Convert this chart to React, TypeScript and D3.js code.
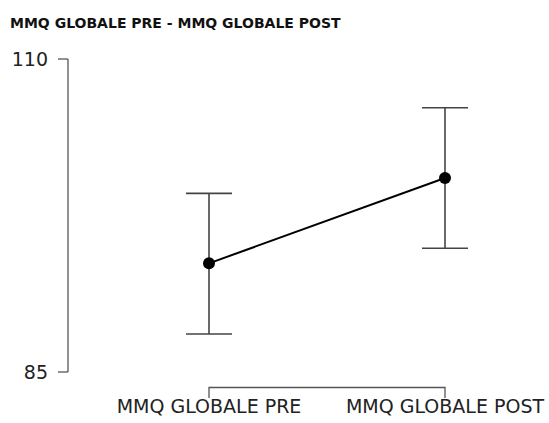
import React from "react";
import * as d3 from "d3";

const title = "MMQ GLOBALE PRE - MMQ GLOBALE POST";
const categories = ["MMQ GLOBALE PRE", "MMQ GLOBALE POST"];
const means = [93.68, 100.5];
const errLow = [88.04, 94.88];
const errHigh = [99.27, 106.11];
const yTicks = [85, 110];

export default function App() {
  const width = 549;
  const height = 423;
  const y = d3.scaleLinear().domain([85, 110]).range([372, 59]);
  const x = d3.scalePoint<string>().domain(categories).range([209, 445]);
  const line = d3
    .line<number>()
    .x((_, i) => x(categories[i]) as number)
    .y((d) => y(d));
  const axisColor = "#555";
  const capHalf = 23;
  const xr = x.range();
  return (
    <svg
      width={width}
      height={height}
      style={{ position: "absolute", left: 0, top: 0 }}
      fontFamily="'DejaVu Sans', sans-serif"
    >
      <rect width={width} height={height} fill="#fff" />
      <text x={10} y={28} fontSize={14} fontWeight="bold" fill="#111">
        {title}
      </text>
      {/* y axis */}
      <line x1={68} x2={68} y1={y(110)} y2={y(85)} stroke={axisColor} strokeWidth={1.3} />
      {yTicks.map((t) => (
        <g key={t}>
          <line x1={58} x2={68} y1={y(t)} y2={y(t)} stroke={axisColor} strokeWidth={1.3} />
          <text x={48} y={y(t)} dy="0.35em" textAnchor="end" fontSize={19} fill="#222">
            {t}
          </text>
        </g>
      ))}
      {/* x axis bracket */}
      <path
        d={`M${xr[0]},398V387.5H${xr[1]}V398`}
        fill="none"
        stroke={axisColor}
        strokeWidth={1.3}
      />
      {categories.map((c) => (
        <text key={c} x={x(c)} y={413} textAnchor="middle" fontSize={19} fill="#222">
          {c}
        </text>
      ))}
      {/* error bars */}
      {categories.map((c, i) => {
        const cx = x(c) as number;
        return (
          <g key={c} stroke="#444" strokeWidth={1.6}>
            <line x1={cx} x2={cx} y1={y(errHigh[i])} y2={y(errLow[i])} />
            <line x1={cx - capHalf} x2={cx + capHalf} y1={y(errHigh[i])} y2={y(errHigh[i])} />
            <line x1={cx - capHalf} x2={cx + capHalf} y1={y(errLow[i])} y2={y(errLow[i])} />
          </g>
        );
      })}
      <path d={line(means) || ""} fill="none" stroke="#000" strokeWidth={2} />
      {categories.map((c, i) => (
        <circle key={c} cx={x(c)} cy={y(means[i])} r={6} fill="#000" />
      ))}
    </svg>
  );
}
